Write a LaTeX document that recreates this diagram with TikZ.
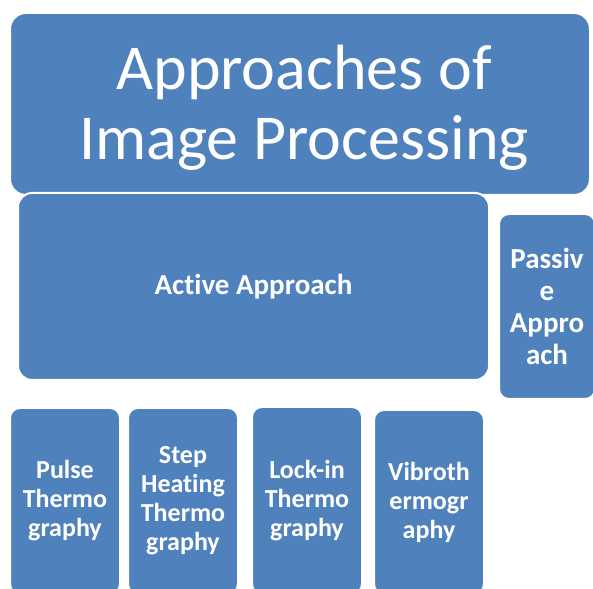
\documentclass[tikz,border=0pt]{standalone}
\usepackage{fontspec}
\setmainfont{Carlito}[Ligatures={NoCommon}]
\usepackage{tikz}

\definecolor{vak}{HTML}{4F81BD}

\begin{document}
\begin{tikzpicture}[x=1pt, y=1pt, inner sep=0, outer sep=0,
    blok/.style={draw=white, line width=2pt, fill=vak, text=white, rounded corners=10pt, align=center},
    klein/.style={blok, font=\bfseries\fontsize{26}{29}\selectfont},
    middel/.style={blok, font=\bfseries\fontsize{29}{32}\selectfont},
    groot/.style={blok, rounded corners=16pt, font=\fontsize{64}{70}\selectfont}]
    % kader
    \useasboundingbox (0,0) rectangle (593,588);
    % titel
    \node[groot, minimum width=580pt, minimum height=182pt] (titel) at (300,484) {};
    \node[text=white, font=\fontsize{64}{70}\selectfont, align=center] (titeltekst) at (304,480) {Approaches of\\Image Processing};
    % actief en passief
    \node[middel, rounded corners=14pt, minimum width=471pt, minimum height=187pt] (actief) at (253.5,301.5) {Active Approach};
    \node[middel, minimum width=96pt, minimum height=185pt] (passief) at (547,281.5) {Passiv\\e\\Appro\\ach};
    % methoden
    \node[klein, minimum width=110pt, minimum height=186pt] (puls) at (65,87) {Pulse\\Thermo\\graphy};
    \node[klein, minimum width=110pt, minimum height=186pt] (stap) at (183,87) {Step\\Heating\\Thermo\\graphy};
    \node[klein, minimum width=110pt, minimum height=187pt] (lockin) at (307,87.5) {Lock-in\\Thermo\\graphy};
    \node[klein, minimum width=110pt, minimum height=184pt] (vibro) at (429,86) {Vibroth\\ermogr\\aphy};
\end{tikzpicture}
\end{document}
